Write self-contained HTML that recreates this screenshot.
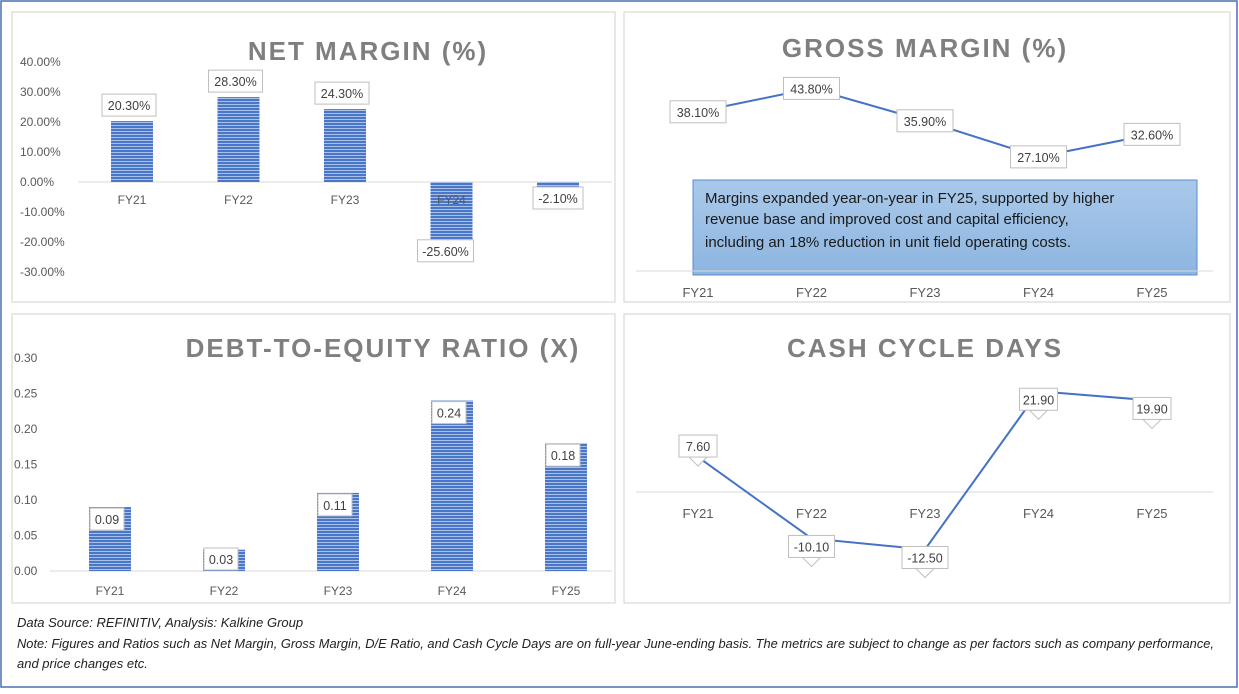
<!DOCTYPE html>
<html><head><meta charset="utf-8"><style>
body{margin:0;background:#fff;font-family:"Liberation Sans",sans-serif;}
svg text{font-family:"Liberation Sans",sans-serif;}
</style></head><body>
<svg id="s" width="1239" height="689" viewBox="0 0 1239 689" xmlns="http://www.w3.org/2000/svg">
<defs>
<pattern id="st" width="4" height="3" patternUnits="userSpaceOnUse"><rect width="4" height="3" fill="#4a76c8"/><rect y="2" width="4" height="1" fill="#a9c0e8"/></pattern>
<linearGradient id="tb" x1="0" y1="0" x2="0" y2="1"><stop offset="0" stop-color="#a9c9ea"/><stop offset="1" stop-color="#8db5e0"/></linearGradient>
</defs>
<rect x="1" y="1" width="1236" height="686" fill="#fff" stroke="#4a6fb0" stroke-width="1.5"/>
<rect x="12" y="12" width="603" height="290" fill="none" stroke="#d0d0d0"/>
<rect x="624" y="12" width="606" height="290" fill="none" stroke="#d0d0d0"/>
<rect x="12" y="314" width="603" height="289" fill="none" stroke="#d0d0d0"/>
<rect x="624" y="314" width="606" height="289" fill="none" stroke="#d0d0d0"/>
<g font-weight="bold" font-size="26" fill="#7f7f7f" text-anchor="middle" letter-spacing="2">
<text x="368" y="60">NET MARGIN (%)</text>
<text x="925" y="57">GROSS MARGIN (%)</text>
<text x="383" y="357">DEBT-TO-EQUITY RATIO (X)</text>
<text x="925" y="357">CASH CYCLE DAYS</text>
</g>
<rect x="693" y="180" width="504" height="95" fill="url(#tb)" stroke="#5b8bd0"/>
<g font-size="15" fill="#1a1a1a">
<text x="705" y="203">Margins expanded year-on-year in FY25, supported by higher</text>
<text x="705" y="224">revenue base and improved cost and capital efficiency,</text>
<text x="705" y="247">including an 18% reduction in unit field operating costs.</text>
</g>
<g font-size="13" font-style="italic" fill="#222">
<text x="17" y="627">Data Source: REFINITIV, Analysis: Kalkine Group</text>
<text x="17" y="648" textLength="1197" lengthAdjust="spacingAndGlyphs">Note: Figures and Ratios such as Net Margin, Gross Margin, D/E Ratio, and Cash Cycle Days are on full-year June-ending basis. The metrics are subject to change as per factors such as company performance,</text>
<text x="17" y="668">and price changes etc.</text>
</g>
<g id="g"></g>
</svg>
<script>
const cats=["FY21","FY22","FY23","FY24","FY25"];
const netMargin=[20.3,28.3,24.3,-25.6,-2.1];
const nmTicks=[40,30,20,10,0,-10,-20,-30];
const grossMargin=[38.1,43.8,35.9,27.1,32.6];
const deRatio=[0.09,0.03,0.11,0.24,0.18];
const deTicks=[0.30,0.25,0.20,0.15,0.10,0.05,0.00];
const cashCycle=[7.6,-10.1,-12.5,21.9,19.9];
const NS="http://www.w3.org/2000/svg";
const G=document.getElementById('g');
function mk(t,a,p){const e=document.createElementNS(NS,t);for(const k in a)e.setAttribute(k,a[k]);(p||G).appendChild(e);return e;}
function txt(x,y,s,a){const e=mk('text',Object.assign({x:x,y:y,'font-size':12,fill:'#595959'},a||{}));e.textContent=s;return e;}
function callout(cx,top,s,w,name){
 const g=mk('g',{});
 
 
 mk('rect',{x:cx-w/2,y:top,width:w,height:22,fill:'#fff',stroke:'#bfbfbf'},g);
 const t=mk('text',{x:cx,y:top+16,'font-size':12.5,fill:'#404040','text-anchor':'middle'},g);t.textContent=s;
}
// Net margin
const nmY=v=>182-v*3, nmX=i=>132+i*106.5;
nmTicks.forEach(t=>{const e=txt(20,nmY(t)+4,t.toFixed(2)+'%');});
mk('line',{x1:78,y1:182,x2:612,y2:182,stroke:'#d9d9d9'});
netMargin.forEach((v,i)=>{const x=nmX(i);
 const r=mk('rect',{x:x-21,y:Math.min(nmY(v),182),width:42,height:Math.abs(v)*3,fill:'url(#st)'});
 
 const c=txt(x,204,cats[i],{'text-anchor':'middle'});
 if(v>=0)callout(x-3,nmY(v)-27,v.toFixed(2)+'%',54,'nm-label');
 else if(v<-10)callout(x-6,nmY(v)-19,v.toFixed(2)+'%',56,'nm-label');
 else callout(x,187,v.toFixed(2)+'%',50,'nm-label');
});
// Gross margin
const gmY=v=>268-v*4.1, gmX=i=>698+i*113.5;
mk('line',{x1:636,y1:271,x2:1213,y2:271,stroke:'#d9d9d9'});
const gp=mk('path',{d:grossMargin.map((v,i)=>(i?'L':'M')+gmX(i)+','+gmY(v)).join(' '),fill:'none',stroke:'#4472c4','stroke-width':2});

grossMargin.forEach((v,i)=>{callout(gmX(i),gmY(v)-11,v.toFixed(2)+'%',56,'gm-label');
 const c=txt(gmX(i),297,cats[i],{'text-anchor':'middle','font-size':13});});
// D/E
const deY=v=>571-v*710, deX=i=>110+i*114;
deTicks.forEach(t=>{const e=txt(14,deY(t)+4,t.toFixed(2));});
mk('line',{x1:50,y1:571,x2:612,y2:571,stroke:'#d9d9d9'});
deRatio.forEach((v,i)=>{const x=deX(i);
 const r=mk('rect',{x:x-21,y:deY(v),width:42,height:v*710,fill:'url(#st)'});
 
 const c=txt(x,595,cats[i],{'text-anchor':'middle'});
 callout(x-3,Math.min(deY(v)+1,548),v.toFixed(2),34,'de-label');
});
// Cash cycle
const ccY=v=>492-v*4.6, ccX=i=>698+i*113.5;
mk('line',{x1:636,y1:492,x2:1213,y2:492,stroke:'#d9d9d9'});
const cp=mk('path',{d:cashCycle.map((v,i)=>(i?'L':'M')+ccX(i)+','+ccY(v)).join(' '),fill:'none',stroke:'#4472c4','stroke-width':2});

cashCycle.forEach((v,i)=>{const x=ccX(i),y=ccY(v);
 const top=i==0?y-22:y-3;
 mk('polygon',{points:`${x-9},${top+22} ${x+9},${top+22} ${x},${top+31}`,fill:'#fff',stroke:'#bfbfbf'});
 callout(x,top,v.toFixed(2),i>0&&i<3?46:38,'cc-label');
 const c=txt(x,518,cats[i],{'text-anchor':'middle','font-size':13});});
</script>
</body></html>
